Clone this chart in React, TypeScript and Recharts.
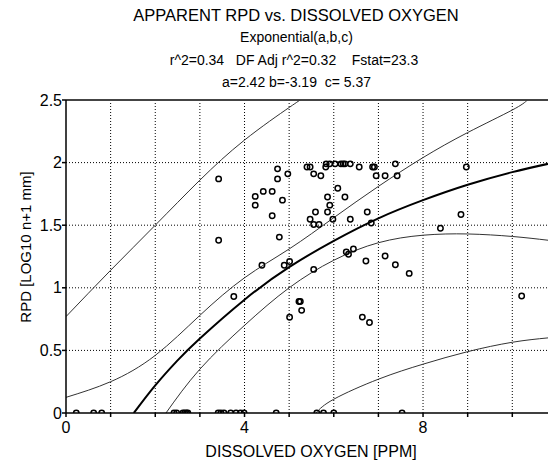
import React from 'react';
import { ComposedChart, Line, Scatter, XAxis, YAxis, ReferenceLine } from 'recharts';

// observed points (dissolved oxygen, apparent RPD)
const oxygen = [
  0.23, 0.62, 0.8, 2.42, 2.48, 2.62, 2.66, 2.7, 2.73, 3.41, 3.47, 3.54, 3.69, 3.81, 3.91, 3.99, 4.71, 5.62, 5.77, 6.0, 7.53,
  3.42, 3.42, 3.76, 4.24, 4.24, 4.42, 4.62, 4.74, 4.74, 4.97, 4.85, 4.62, 4.78, 4.39, 4.89, 5.01, 5.01, 5.22, 5.25, 5.28,
  5.4, 5.47, 5.55, 5.71, 5.82, 5.83, 5.91, 6.03, 6.16, 6.21, 6.25, 6.37, 6.57, 6.87, 6.91, 6.95, 7.15, 7.38, 7.42, 8.97,
  6.09, 6.25, 5.86, 5.91, 5.59, 5.86, 6.75, 5.47, 5.98, 6.37, 5.55, 5.67, 6.84, 5.55, 6.28, 6.33, 6.44, 6.72, 7.15, 7.38,
  7.69, 8.85, 8.39, 6.64, 6.8, 10.21,
];
const rpd = [
  0, 0, 0, 0, 0, 0, 0, 0, 0, 0, 0, 0, 0, 0, 0, 0, 0, 0, 0, 0, 0,
  1.87, 1.38, 0.93, 1.73, 1.66, 1.77, 1.77, 1.95, 1.87, 1.91, 1.7, 1.575, 1.405, 1.18, 1.18, 1.21, 0.765, 0.89, 0.89, 0.82,
  1.965, 1.965, 1.91, 1.895, 1.965, 1.99, 1.99, 1.99, 1.99, 1.99, 1.99, 1.99, 1.965, 1.965, 1.965, 1.895, 1.895, 1.99, 1.895, 1.965,
  1.795, 1.725, 1.725, 1.66, 1.605, 1.605, 1.605, 1.548, 1.548, 1.548, 1.505, 1.505, 1.518, 1.147, 1.286, 1.268, 1.31, 1.214, 1.254, 1.184,
  1.115, 1.585, 1.476, 0.766, 0.723, 0.934,
];

// fitted curve and bands
const fitX = [1.52, 2, 2.5, 3, 4, 5, 6, 7, 8, 9, 10, 10.8];
const fitY = [0, 0.22, 0.42, 0.595, 0.905, 1.165, 1.375, 1.555, 1.7, 1.823, 1.924, 1.99];
const upConfX = [0, 1, 2, 3, 4, 5, 6, 7, 8, 9, 10, 10.34];
const upConfY = [0.125, 0.25, 0.46, 0.78, 1.08, 1.31, 1.56, 1.81, 2.04, 2.24, 2.42, 2.5];
const loConfX = [2.24, 3, 4, 5, 6, 7, 8, 9, 10, 10.8];
const loConfY = [0, 0.35, 0.7, 1.0, 1.22, 1.36, 1.42, 1.43, 1.41, 1.38];
const upPredX = [0, 1, 2, 3, 4, 5, 5.25];
const upPredY = [0.77, 1.14, 1.5, 1.86, 2.18, 2.44, 2.5];
const loPredX = [5.6, 6, 7, 8, 9, 10, 10.8];
const loPredY = [0, 0.11, 0.27, 0.39, 0.49, 0.565, 0.6];

const xTicks = [0, 1, 2, 3, 4, 5, 6, 7, 8, 9, 10];
const yTicks = [0, 0.5, 1, 1.5, 2, 2.5];
const xGrid = [1, 2, 3, 4, 5, 6, 7, 8, 9, 10];
const yGrid = [0.5, 1, 1.5, 2];

const pairs = (xs: number[], ys: number[]) => xs.map((x, i) => ({ x, y: ys[i] }));

const points = pairs(oxygen, rpd);
const font = '"Liberation Sans", Arial, sans-serif';

const Ring = (props: any) => {
  const { cx, cy } = props;
  return <circle cx={cx} cy={cy} r={2.7} fill="none" stroke="#000" strokeWidth={1.5} />;
};

const thin = { stroke: '#333', strokeWidth: 1 };
const txt = { whiteSpace: 'pre' as const };

export default function App() {
  return (
    <div style={{ position: 'absolute', left: 0, top: 0, width: 548, height: 463, background: '#fff', fontFamily: font }}>
      <ComposedChart width={548} height={463} margin={{ top: 100, right: 0, bottom: 0, left: 0 }}>
        <XAxis
          type="number"
          dataKey="x"
          domain={[0, 10.8]}
          ticks={xTicks}
          tickFormatter={(v: number) => (v % 4 === 0 ? String(v) : '')}
          height={50}
          tickSize={4}
          tickMargin={5}
          stroke="#000"
          strokeWidth={1.5}
          tick={{ fill: '#000', fontSize: 16, fontFamily: font }}
          allowDataOverflow
        />
        <YAxis
          type="number"
          dataKey="y"
          domain={[0, 2.5]}
          ticks={yTicks}
          width={66}
          tickSize={4}
          tickMargin={0}
          stroke="#000"
          strokeWidth={1.5}
          tick={{ fill: '#000', fontSize: 16, fontFamily: font }}
          allowDataOverflow
        />
        {xGrid.map((v) => (
          <ReferenceLine key={'gx' + v} x={v} stroke="#000" strokeDasharray="1 2" strokeWidth={1} />
        ))}
        {yGrid.map((v) => (
          <ReferenceLine key={'gy' + v} y={v} stroke="#000" strokeDasharray="1 2" strokeWidth={1} />
        ))}
        <ReferenceLine y={2.5} stroke="#444" strokeWidth={2} />
        <Line data={pairs(upPredX, upPredY)} dataKey="y" type="natural" dot={false} {...thin} isAnimationActive={false} />
        <Line data={pairs(loPredX, loPredY)} dataKey="y" type="natural" dot={false} {...thin} isAnimationActive={false} />
        <Line data={pairs(upConfX, upConfY)} dataKey="y" type="natural" dot={false} {...thin} isAnimationActive={false} />
        <Line data={pairs(loConfX, loConfY)} dataKey="y" type="natural" dot={false} {...thin} isAnimationActive={false} />
        <Line data={pairs(fitX, fitY)} dataKey="y" type="natural" dot={false} stroke="#000" strokeWidth={2} isAnimationActive={false} />
        <Scatter data={points} dataKey="y" shape={Ring} isAnimationActive={false} />
      </ComposedChart>
      <svg width={548} height={463} style={{ position: 'absolute', left: 0, top: 0, pointerEvents: 'none' }}>
        <g fontFamily={font} fill="#000" textAnchor="middle">
          <text x={296} y={21} fontSize={16.5} style={txt} xmlSpace="preserve">APPARENT RPD vs. DISSOLVED OXYGEN</text>
          <text x={296.5} y={42} fontSize={14} style={txt} xmlSpace="preserve">Exponential(a,b,c)</text>
          <text x={294} y={65} fontSize={14} style={txt} xmlSpace="preserve">{'r^2=0.34   DF Adj r^2=0.32    Fstat=23.3'}</text>
          <text x={296.5} y={87} fontSize={14} style={txt} xmlSpace="preserve">{'a=2.42 b=-3.19  c= 5.37'}</text>
          <text x={311} y={457} fontSize={16}>DISSOLVED OXYGEN [PPM]</text>
          <text transform="translate(30.5, 247) rotate(-90)" fontSize={15}>RPD [LOG10 n+1 mm]</text>
        </g>
      </svg>
    </div>
  );
}
